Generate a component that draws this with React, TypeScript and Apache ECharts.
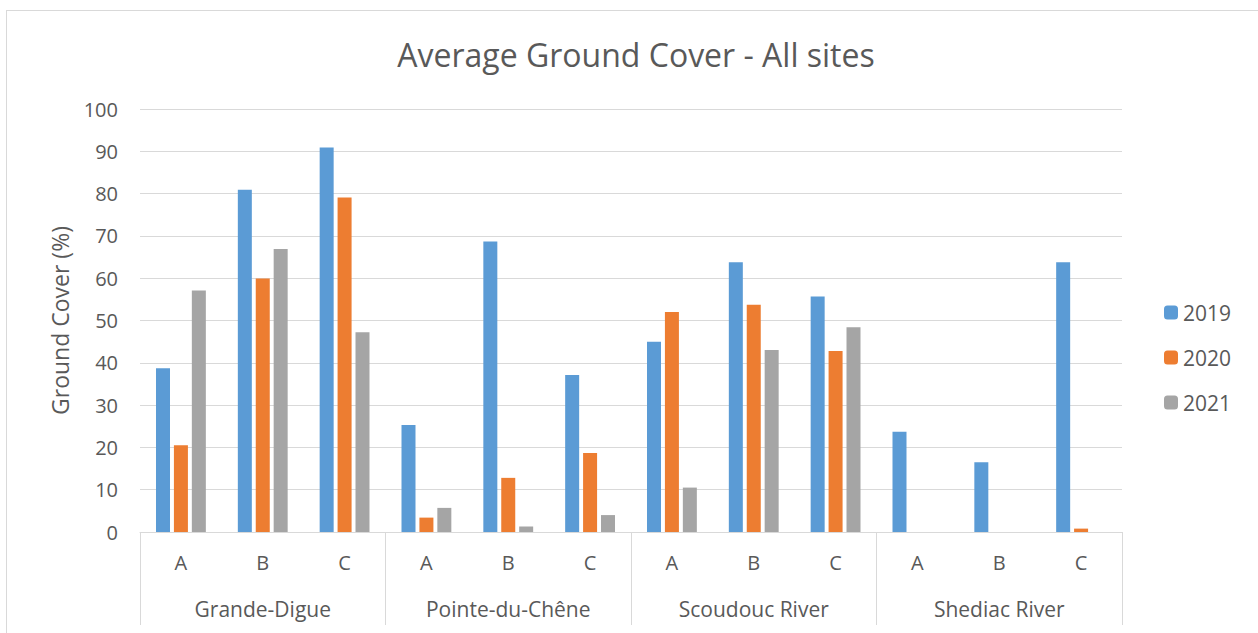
import React, { useEffect, useRef } from "react";
import * as echarts from "echarts";

const sites = ["Grande-Digue", "Pointe-du-Chêne", "Scoudouc River", "Shediac River"];
const plots = ["A", "B", "C", "A", "B", "C", "A", "B", "C", "A", "B", "C"];
const years = ["2019", "2020", "2021"];

const cover2019 = [38.7, 80.9, 90.9, 25.3, 68.7, 37.1, 45.0, 63.8, 55.7, 23.7, 16.5, 63.8];
const cover2020 = [20.5, 59.9, 79.1, 3.4, 12.8, 18.7, 52.0, 53.7, 42.8, 0, 0, 0.8];
const cover2021 = [57.1, 66.9, 47.2, 5.7, 1.3, 4.0, 10.5, 43.0, 48.4, 0, 0, 0];

const yTicks = [0, 10, 20, 30, 40, 50, 60, 70, 80, 90, 100];

const colors = ["#5B9BD5", "#ED7D31", "#A5A5A5"];
const textColor = "#595959";
const lineColor = "#D9D9D9";
const font = "'Open Sans', 'Noto Sans', sans-serif";

export default function App() {
  const ref = useRef<HTMLDivElement>(null);

  useEffect(() => {
    document.body.style.margin = "0";
    if (!ref.current) return;
    const chart = echarts.init(ref.current, undefined, { renderer: "svg" });
    const seriesData = [cover2019, cover2020, cover2021];
    chart.setOption({
      animation: false,
      textStyle: { fontFamily: font, color: textColor },
      title: {
        text: "Average Ground Cover - All sites",
        left: "center",
        top: 22,
        textStyle: { fontFamily: font, fontSize: 32, fontWeight: "normal", color: textColor },
      },
      legend: {
        orient: "vertical",
        left: 1157,
        top: 291,
        padding: 0,
        itemWidth: 14,
        itemHeight: 14,
        itemGap: 24,
        data: years,
        textStyle: { fontFamily: font, fontSize: 21, color: textColor },
      },
      grid: { left: 133, right: 143, top: 98, bottom: 107 },
      xAxis: [
        {
          type: "category",
          data: plots,
          position: "bottom",
          axisLine: { show: true, lineStyle: { color: lineColor, width: 1 } },
          axisTick: { show: false },
          axisLabel: { margin: 20, fontFamily: font, fontSize: 20, color: textColor, interval: 0 },
        },
        {
          type: "category",
          data: sites,
          position: "bottom",
          axisLine: { show: false },
          axisTick: { show: true, length: 93, interval: 0, lineStyle: { color: lineColor, width: 1 } },
          axisLabel: { margin: 66, fontFamily: font, fontSize: 21, color: textColor, interval: 0 },
          splitLine: { show: false },
        },
      ],
      yAxis: {
        type: "value",
        min: yTicks[0],
        max: yTicks[yTicks.length - 1],
        interval: 10,
        name: "Ground Cover (%)",
        nameLocation: "middle",
        nameGap: 69,
        nameTextStyle: { fontFamily: font, fontSize: 23, color: textColor },
        axisLine: { show: false },
        axisTick: { show: false },
        axisLabel: { margin: 22, fontFamily: font, fontSize: 20, color: textColor },
        splitLine: { lineStyle: { color: lineColor, width: 1 } },
      },
      series: years.map((y, i) => ({
        name: y,
        type: "bar",
        xAxisIndex: 0,
        data: seriesData[i],
        barWidth: 14,
        barGap: "28%",
        itemStyle: { color: colors[i] },
      })),
    });
    return () => chart.dispose();
  }, []);

  return (
    <div
      style={{
        position: "absolute",
        left: 6,
        top: 10,
        width: 1260,
        height: 630,
        border: `1px solid ${lineColor}`,
        boxSizing: "border-box",
        background: "#fff",
      }}
    >
      <div ref={ref} style={{ width: 1258, height: 628 }} />
    </div>
  );
}
